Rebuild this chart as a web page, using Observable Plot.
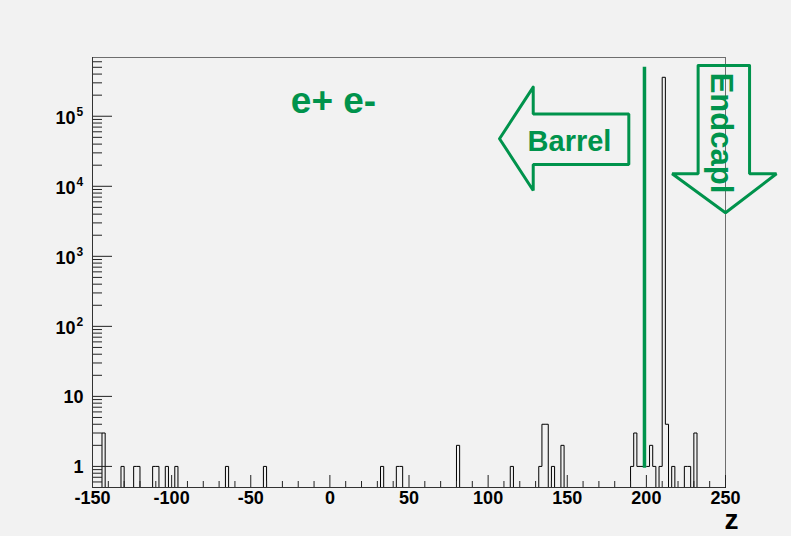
<!DOCTYPE html>
<html>
<head>
<meta charset="utf-8">
<script src="https://cdn.jsdelivr.net/npm/d3@7"></script>
<script src="https://cdn.jsdelivr.net/npm/@observablehq/plot@0.6"></script>
<style>
  html, body { margin: 0; padding: 0; background: #f2f2f2; }
  #chart svg { display: block; }
</style>
</head>
<body>
<div id="chart"></div>
<script>
// z of e+ e- hits, 2-unit bins from -150 to 250 (only the non-empty bins are listed)
const binLeft  = [-144, -132, -124, -122, -112, -110, -104, -98, -66, -42,
                  32, 42, 44, 80, 114, 132, 134, 136, 140, 146,
                  190, 192, 194, 196, 198, 200, 202, 204, 208, 210, 212, 216, 224, 226, 230];
const binCount = [3, 1, 1, 1, 1, 1, 1, 1, 1, 1,
                  1, 1, 1, 2, 1, 1, 4, 4, 1, 2,
                  1, 3, 1, 1, 1, 1, 2, 1, 1, 360000, 4, 1, 1, 1, 3];

// axis ticks
const xTickValues = d3.range(-150, 251, 10);
const xTickLabels = [-150, -100, -50, 0, 50, 100, 150, 200, 250];
const yDecades = [1, 10, 100, 1e3, 1e4, 1e5];

const xMin = -150, xMax = 250, binWidth = 2;
const yMin = 0.5, yMax = 6.9e5;
const green = "#00934c";
const font = "'Liberation Sans', Arial, Helvetica, sans-serif";

// full bin table: empty bins sit on the lower edge of the log axis
const counts = new Map(binLeft.map((x, i) => [x, binCount[i]]));
const steps = d3.range(xMin, xMax, binWidth).map(x => ({x, n: counts.get(x) ?? 0}));
steps.push({x: xMax, n: 0});

const marginTop = 57, marginRight = 66, marginBottom = 49, marginLeft = 92;
const width = 791, height = 536;
const frameW = width - marginLeft - marginRight;
const frameH = height - marginTop - marginBottom;

const yMinor = [];
for (let e = -1; e <= 5; e++) for (let m = 2; m <= 9; m++) {
  const v = m * 10 ** e;
  if (v >= yMin && v <= yMax) yMinor.push(v);
}

const chart = Plot.plot({
  width, height, marginTop, marginRight, marginBottom, marginLeft,
  style: {background: "#f2f2f2", fontFamily: font, overflow: "visible"},
  x: {domain: [xMin, xMax], axis: null},
  y: {type: "log", domain: [yMin, yMax], axis: null},
  marks: [
    Plot.frame({stroke: "#6e6e6e"}),
    // histogram outline
    Plot.line(steps, {x: "x", y: d => Math.max(d.n, yMin), curve: "step-after", stroke: "#000", strokeWidth: 1}),
    // ticks drawn inward from the axes
    Plot.tickX(xTickValues.filter(v => v % 50 !== 0), {x: d => d, insetTop: frameH - 6, stroke: "#222"}),
    Plot.tickX(xTickValues.filter(v => v % 50 === 0), {x: d => d, insetTop: frameH - 12, stroke: "#222"}),
    Plot.tickY(yMinor, {y: d => d, insetRight: frameW - 10, stroke: "#222"}),
    Plot.tickY(yDecades, {y: d => d, insetRight: frameW - 20, stroke: "#222"}),
    Plot.ruleX([xMin], {stroke: "#333"}),
    Plot.ruleY([yMin], {stroke: "#333"}),
    // tick labels
    Plot.text(xTickLabels, {x: d => d, text: d => String(d), frameAnchor: "bottom", lineAnchor: "middle", dy: 11,
      fontSize: 18, fontWeight: "bold", fill: "#000"}),
    Plot.text(yDecades.filter(v => v < 100), {y: d => d, text: d => String(d), frameAnchor: "left",
      dx: -9, dy: 1, textAnchor: "end", fontSize: 18, fontWeight: "bold", fill: "#000"}),
    Plot.text(yDecades.filter(v => v >= 100), {y: d => d, text: () => "10", frameAnchor: "left",
      dx: -17, dy: 1.5, textAnchor: "end", fontSize: 18, fontWeight: "bold", fill: "#000"}),
    Plot.text(yDecades.filter(v => v >= 100), {y: d => d, text: d => String(Math.round(Math.log10(d))),
      frameAnchor: "left", dx: -16, dy: -4, textAnchor: "start", fontSize: 12, fontWeight: "bold", fill: "#000"}),
    // axis title
    Plot.text(["z"], {frameAnchor: "bottom-right", lineAnchor: "middle", dx: 13, dy: 33, textAnchor: "end",
      fontSize: 28, fontWeight: "bold", fill: "#000"}),
    // barrel / endcap annotations
    Plot.ruleX([198.8], {y1: 0.94, y2: 5.0e5, stroke: green, strokeWidth: 3.5}),
    Plot.line([[107.2, 4.77e4], [128.5, 2.6e5], [128.5, 1.08e5], [188.9, 1.08e5], [188.9, 2.05e4],
               [128.5, 2.05e4], [128.5, 8.7e3], [107.2, 4.77e4], [128.5, 2.6e5]],
      {x: d => d[0], y: d => d[1], stroke: green, strokeWidth: 3, strokeLinejoin: "miter"}),
    Plot.line([[232.7, 5.31e5], [265.2, 5.31e5], [265.2, 1.51e4], [282.2, 1.51e4], [250, 4.18e3],
               [216.3, 1.51e4], [232.7, 1.51e4], [232.7, 5.31e5], [265.2, 5.31e5]],
      {x: d => d[0], y: d => d[1], stroke: green, strokeWidth: 3, strokeLinejoin: "miter"}),
    Plot.text(["e+ e-"], {x: 2.3, y: 1.63e5, text: d => d, fontSize: 37, fontWeight: "bold", fill: green}),
    Plot.text(["Barrel"], {x: 151.4, y: 4.37e4, text: d => d, fontSize: 29, fontWeight: "bold", fill: green}),
    Plot.text(["Endcapl"], {x: 246.8, y: 5.77e4, text: d => d, rotate: 90, fontSize: 31, fontWeight: "bold", fill: green})
  ]
});
document.getElementById("chart").append(chart);
</script>
</body>
</html>
